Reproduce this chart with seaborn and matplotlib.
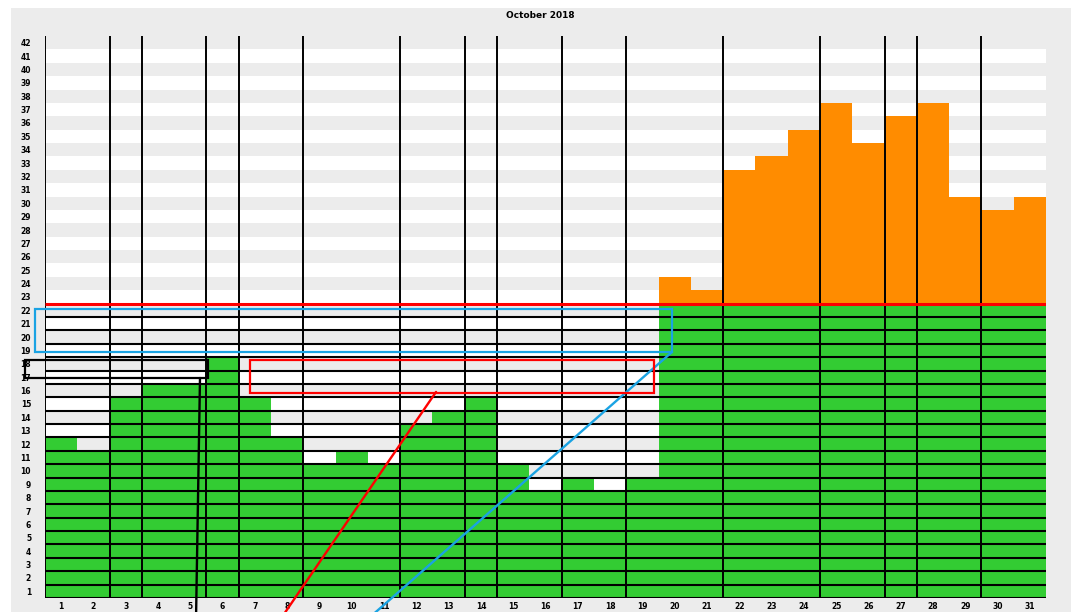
import numpy as np
import pandas as pd
import matplotlib
matplotlib.use("Agg")
import matplotlib.pyplot as plt
from matplotlib.patches import Rectangle
import seaborn as sns

# daily counts for October 2018
days = [str(d) for d in range(1, 32)]
counts = [12, 11, 15, 16, 16, 18, 15, 12, 10, 11, 10, 13, 14, 15, 10, 8,
          9, 8, 9, 24, 23, 32, 33, 35, 37, 34, 36, 37, 30, 29, 30]
limit = 22
y_max = 42
# days that get a vertical separator on their left edge
sep_days = [1, 3, 4, 6, 7, 9, 12, 14, 15, 17, 19, 22, 25, 27, 28, 30]

# highlight boxes (x0, x1, y0, y1) and leader lines ((x0, y0), (x1, y1)) in data units
blue_box = (-0.81, 18.92, 18.39, 21.6)
blue_leader = ((18.92, 18.39), (9.72, -1.1))
red_box = (5.85, 18.36, 15.32, 17.79)
red_leader = ((11.61, 15.4), (6.93, -1.1))
black_box = (-1.12, 4.55, 16.44, 17.79)
black_leader = ((4.30, 16.44), (4.18, -1.1))

GREEN = "#33cc33"
ORANGE = "#ff8c00"
GRAY = "#ececec"
BLUE = "#1aa3e3"

sns.set_style("white")
plt.rcParams["font.family"] = ["DejaVu Sans"]

fig = plt.figure(figsize=(10.73, 6.12), dpi=100, facecolor="white")
bg = Rectangle((11 / 1073, 0), 1060 / 1073, 1 - 8 / 612,
               transform=fig.transFigure, facecolor=GRAY,
               edgecolor="none", zorder=-10)
fig.patches.append(bg)
ax = fig.add_axes([45 / 1073, 1 - 598 / 612, 1001 / 1073, 562 / 612])
ax.set_facecolor("white")
ax.set_zorder(1)

# striped rows (even rows gray)
for k in range(2, y_max + 1, 2):
    ax.axhspan(k - 1, k, color=GRAY, lw=0, zorder=0)

df = pd.DataFrame({"day": days, "count": counts})
df["green"] = np.minimum(df["count"], limit)

sns.barplot(data=df, x="day", y="count", order=days, color=ORANGE,
            saturation=1, width=1, linewidth=0, ax=ax, zorder=1)
sns.barplot(data=df, x="day", y="green", order=days, color=GREEN,
            saturation=1, width=1, linewidth=0, ax=ax, zorder=2)

# horizontal grid under the limit
ax.hlines(range(0, limit), -0.5, 30.5, color="black", lw=1.5, zorder=3)
# vertical separators
ax.vlines([d - 1.5 for d in sep_days], 0, y_max, color="black", lw=1.4, zorder=3)
# limit line
ax.hlines(limit, -0.5, 30.5, color="#ff0000", lw=2.2, zorder=4)

for box, leader, col in [(blue_box, blue_leader, BLUE),
                         (red_box, red_leader, "#ff0000"),
                         (black_box, black_leader, "black")]:
    x0, x1, y0, y1 = box
    ax.add_patch(Rectangle((x0, y0), x1 - x0, y1 - y0, fill=False,
                           edgecolor=col, lw=1.6, clip_on=False, zorder=5))
    (lx0, ly0), (lx1, ly1) = leader
    ax.plot([lx0, lx1], [ly0, ly1], color=col, lw=1.7, clip_on=False, zorder=5)

ax.set_xlim(-0.5, 30.5)
ax.set_ylim(0, y_max)
ax.set_yticks([k - 0.5 for k in range(1, y_max + 1)])
ax.set_yticklabels([str(k) for k in range(1, y_max + 1)])
ax.set_xticks(range(31))
ax.set_xticklabels(days)
ax.tick_params(axis="both", length=0, labelsize=5.5, pad=3, labelcolor="black")
for lab in ax.get_xticklabels() + ax.get_yticklabels():
    lab.set_fontweight("bold")
ax.tick_params(axis="y", pad=10)
ax.set_xlabel("")
ax.set_ylabel("")
for s in ax.spines.values():
    s.set_visible(False)

fig.text(540 / 1073, 1 - 15 / 612, "October 2018", ha="center", va="center",
         fontsize=6.5, fontweight="bold", color="black")

fig.savefig("out.png", dpi=100, facecolor="white")
